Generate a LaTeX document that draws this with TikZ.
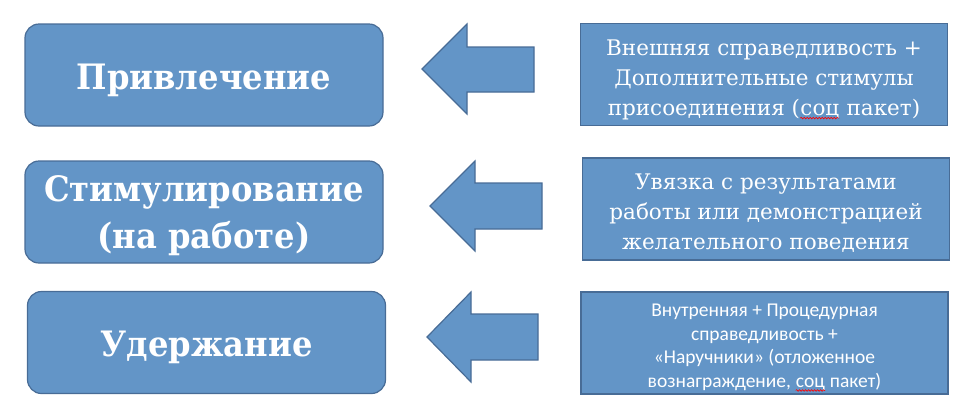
\documentclass[tikz,border=0pt]{standalone}
\usepackage{fontspec}
\setmainfont{DejaVu Serif}
\newfontfamily\headfont[FakeStretch=0.92]{DejaVu Serif}
\newfontfamily\calfont{Carlito}
\usetikzlibrary{decorations.pathmorphing}
\newcommand\redwave[1]{\tikz[baseline=(w.base)]{\node[inner sep=0pt,text=white] (w) {#1};\draw[red,line width=0.6pt,decorate,decoration={snake,amplitude=0.8pt,segment length=3pt}] ([yshift=-3pt]w.base west) -- ([yshift=-3pt]w.base east);}}
\definecolor{boxfill}{RGB}{99,149,199}
\definecolor{boxline}{RGB}{72,108,150}
\begin{document}
\begin{tikzpicture}[x=1pt,y=-1pt,
 leftbox/.style={draw=boxline, fill=boxfill, line width=1.2pt, rounded corners=14pt, minimum width=358pt, minimum height=102pt, inner sep=0pt},
 lefttext/.style={text=white, font=\headfont\fontsize{35}{47}\selectfont\bfseries, align=center, inner sep=0pt},
 rightbox/.style={draw=boxline, fill=boxfill, line width=1.2pt, minimum width=367pt, minimum height=102pt, inner sep=0pt},
 righttext/.style={text=white, font=\fontsize{21.5}{30}\selectfont, align=center, inner sep=0pt},
 blockarrow/.style={draw=boxline, fill=boxfill, line width=1.2pt, line join=miter}]
\useasboundingbox (0,0) rectangle (954,416);
\node[leftbox] (l1) at (204,75) {};
\node[leftbox] (l2) at (204,212) {};
\node[leftbox] (l3) at (206.5,342.5) {};
\node[lefttext] (t1) at ([yshift=-5pt]l1.center) {Привлечение};
\node[lefttext] (t2) at ([yshift=-4pt]l2.center) {Стимулирование\\(на работе)};
\node[lefttext] (t3) at ([yshift=-5pt]l3.center) {Удержание};
\node[rightbox] (r1) at (764,74.5) {};
\node[rightbox] (r2) at (766,209) {};
\node[rightbox] (r3) at (764.5,343) {};
\node[righttext] (s1) at ([yshift=-5pt]r1.center) {Внешняя справедливость +\\Дополнительные стимулы\\присоединения (\redwave{соц} пакет)};
\node[righttext] (s2) at ([yshift=-4pt]r2.center) {Увязка с результатами\\работы или демонстрацией\\желательного поведения};
\node[righttext, font=\calfont\fontsize{19.5}{23.5}\selectfont] (s3) at ([yshift=-5pt]r3.center) {Внутренняя + Процедурная\\справедливость +\\«Наручники» (отложенное\\вознаграждение, \redwave{соц} пакет)};
\draw[blockarrow] (534,47) -- (467,47) -- (467,24) -- (422,69) -- (467,114) -- (467,92) -- (534,92) -- cycle;
\draw[blockarrow] (542,183) -- (475,183) -- (475,161) -- (430,206) -- (475,251) -- (475,229) -- (542,229) -- cycle;
\draw[blockarrow] (538,314) -- (471,314) -- (471,292) -- (427,337) -- (471,382) -- (471,360) -- (538,360) -- cycle;
\end{tikzpicture}
\end{document}
